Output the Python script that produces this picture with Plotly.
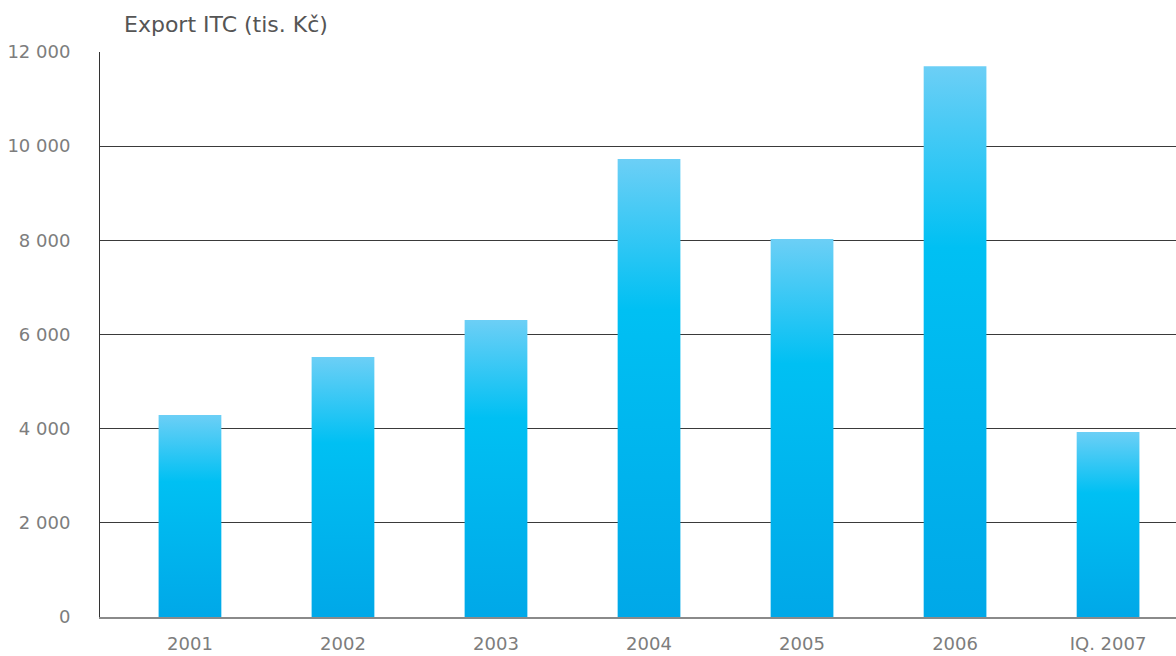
import plotly.graph_objects as go

categories = ["2001", "2002", "2003", "2004", "2005", "2006", "IQ. 2007"]
values = [4290, 5520, 6310, 9730, 8030, 11700, 3930]
y_ticks = [0, 2000, 4000, 6000, 8000, 10000, 12000]

bar_width = 0.41
colorscale = [[0, "#00a8e8"], [0.67, "#00c0f3"], [1, "#6ccff6"]]

fig = go.Figure()
for i, (cat, v) in enumerate(zip(categories, values)):
    x0, x1 = i - bar_width / 2, i + bar_width / 2
    fig.add_trace(go.Scatter(
        x=[x0, x0, x1, x1, x0],
        y=[0, v, v, 0, 0],
        mode="lines",
        fill="toself",
        line=dict(width=0, color="rgba(0,0,0,0)"),
        fillgradient=dict(type="vertical", colorscale=colorscale, start=0, stop=v),
        name=cat,
        hoveron="fills",
        text=f"{cat}: {v}",
        showlegend=False,
    ))

fig.update_layout(
    width=1176, height=656,
    margin=dict(l=100, r=0, t=52, b=39, autoexpand=False),
    paper_bgcolor="white", plot_bgcolor="white",
    separators=", ",
    font=dict(family="DejaVu Sans, sans-serif", color="#7d7d7d", size=18),
    xaxis=dict(
        range=[-0.588, 6.444],
        tickvals=list(range(len(categories))),
        ticktext=categories,
        showgrid=False, zeroline=False,
        showline=True, linecolor="#8a8a8a", linewidth=2,
        ticks="", ticklabelstandoff=9,
        tickfont=dict(size=18, color="#7d7d7d"),
    ),
    yaxis=dict(
        range=[0, 12000],
        tickvals=y_ticks,
        tickformat=",d",
        showgrid=True, gridcolor="#3a3a3a", gridwidth=1,
        zeroline=False,
        showline=True, linecolor="#333333", linewidth=1,
        ticks="", ticklabelstandoff=25,
        tickfont=dict(size=18, color="#7d7d7d"),
    ),
    annotations=[dict(
        text="Export ITC (tis. Kč)",
        xref="paper", yref="paper", x=0.0204, y=1,
        xanchor="left", yanchor="middle", yshift=28,
        showarrow=False,
        font=dict(size=22, color="#555555"),
    )],
)

fig.write_html(
    "out.html",
    config={"displayModeBar": False},
    post_script="document.body.style.margin='0';document.body.style.overflow='hidden';",
)
